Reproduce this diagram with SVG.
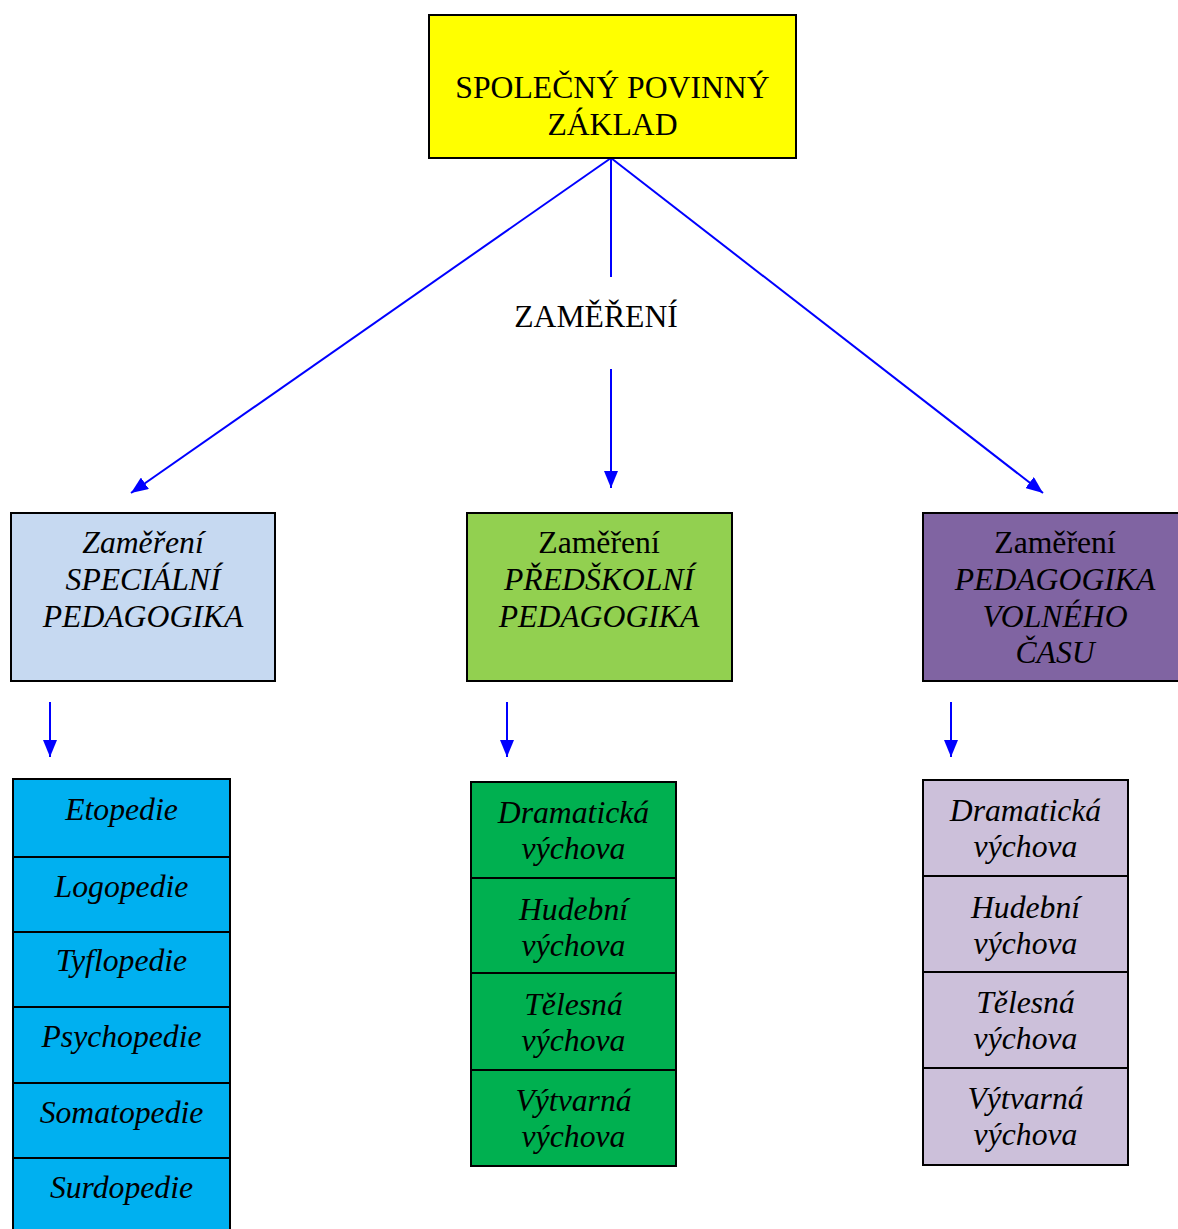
<svg xmlns="http://www.w3.org/2000/svg" width="1178" height="1229" viewBox="0 0 1178 1229">
<style>
text{font-family:"Liberation Serif","Times New Roman",serif;font-size:31.7px;fill:#000;text-anchor:middle}
.i{font-style:italic}
.box{stroke:#000;stroke-width:2}
.con{stroke:#0000FF;stroke-width:2;fill:none}
</style>
<defs>
<marker id="ah" markerUnits="userSpaceOnUse" markerWidth="18" markerHeight="14" refX="17" refY="7" orient="auto">
<path d="M0,0 L17,7 L0,14 Z" fill="#0000FF"/>
</marker>
</defs>
<rect width="1178" height="1229" fill="#fff"/>
<g id="connectors">
<line class="con" x1="611" y1="158" x2="131" y2="493" marker-end="url(#ah)"/>
<line class="con" x1="611" y1="158" x2="611" y2="277"/>
<line class="con" x1="611" y1="369" x2="611" y2="488" marker-end="url(#ah)"/>
<line class="con" x1="611" y1="158" x2="1043" y2="493" marker-end="url(#ah)"/>
<line class="con" x1="50" y1="702" x2="50" y2="757" marker-end="url(#ah)"/>
<line class="con" x1="507" y1="702" x2="507" y2="757" marker-end="url(#ah)"/>
<line class="con" x1="951" y1="702" x2="951" y2="757" marker-end="url(#ah)"/>
</g>
<g id="label-zamereni"><text x="596" y="327">ZAMĚŘENÍ</text></g>
<g id="top">
<rect class="box" x="429" y="15" width="367" height="143" fill="#FFFF00"/>
<text x="612.5" y="98">SPOLEČNÝ POVINNÝ</text>
<text x="612.5" y="135">ZÁKLAD</text>
</g>
<g id="spec">
<rect class="box" x="11" y="513" width="264" height="168" fill="#C6D9F1"/>
<text class="i" x="143" y="553">Zaměření</text>
<text class="i" x="143" y="590">SPECIÁLNÍ</text>
<text class="i" x="143" y="627">PEDAGOGIKA</text>
</g>
<g id="pred">
<rect class="box" x="467" y="513" width="265" height="168" fill="#92D050"/>
<text x="599" y="553">Zaměření</text>
<text class="i" x="599" y="590">PŘEDŠKOLNÍ</text>
<text class="i" x="599" y="627">PEDAGOGIKA</text>
</g>
<g id="volny">
<rect class="box" x="923" y="513" width="265" height="168" fill="#8064A2"/>
<text x="1055" y="553">Zaměření</text>
<text class="i" x="1055" y="590">PEDAGOGIKA</text>
<text class="i" x="1055" y="627">VOLNÉHO</text>
<text class="i" x="1055" y="663">ČASU</text>
</g>
<g id="spec-list">
<g id="etopedie"><rect class="box" x="13" y="779" width="217" height="78" fill="#00B0F0"/><text class="i" x="121.5" y="820">Etopedie</text></g>
<g id="logopedie"><rect class="box" x="13" y="857" width="217" height="75" fill="#00B0F0"/><text class="i" x="121.5" y="897">Logopedie</text></g>
<g id="tyflopedie"><rect class="box" x="13" y="932" width="217" height="75" fill="#00B0F0"/><text class="i" x="121.5" y="971">Tyflopedie</text></g>
<g id="psychopedie"><rect class="box" x="13" y="1007" width="217" height="76" fill="#00B0F0"/><text class="i" x="121.5" y="1047">Psychopedie</text></g>
<g id="somatopedie"><rect class="box" x="13" y="1083" width="217" height="75" fill="#00B0F0"/><text class="i" x="121.5" y="1123">Somatopedie</text></g>
<g id="surdopedie"><rect class="box" x="13" y="1158" width="217" height="80" fill="#00B0F0"/><text class="i" x="121.5" y="1198">Surdopedie</text></g>
</g>
<g id="pred-list">
<g id="p-dram"><rect class="box" x="471" y="782" width="205" height="96" fill="#00B050"/><text class="i" x="573.5" y="823">Dramatická</text><text class="i" x="573.5" y="859">výchova</text></g>
<g id="p-hud"><rect class="box" x="471" y="878" width="205" height="95" fill="#00B050"/><text class="i" x="573.5" y="920">Hudební</text><text class="i" x="573.5" y="956">výchova</text></g>
<g id="p-tel"><rect class="box" x="471" y="973" width="205" height="97" fill="#00B050"/><text class="i" x="573.5" y="1015">Tělesná</text><text class="i" x="573.5" y="1051">výchova</text></g>
<g id="p-vyt"><rect class="box" x="471" y="1070" width="205" height="96" fill="#00B050"/><text class="i" x="573.5" y="1111">Výtvarná</text><text class="i" x="573.5" y="1147">výchova</text></g>
</g>
<g id="volny-list">
<g id="v-dram"><rect class="box" x="923" y="780" width="205" height="96" fill="#CCC0DA"/><text class="i" x="1025.5" y="821">Dramatická</text><text class="i" x="1025.5" y="857">výchova</text></g>
<g id="v-hud"><rect class="box" x="923" y="876" width="205" height="96" fill="#CCC0DA"/><text class="i" x="1025.5" y="918">Hudební</text><text class="i" x="1025.5" y="954">výchova</text></g>
<g id="v-tel"><rect class="box" x="923" y="972" width="205" height="96" fill="#CCC0DA"/><text class="i" x="1025.5" y="1013">Tělesná</text><text class="i" x="1025.5" y="1049">výchova</text></g>
<g id="v-vyt"><rect class="box" x="923" y="1068" width="205" height="97" fill="#CCC0DA"/><text class="i" x="1025.5" y="1109">Výtvarná</text><text class="i" x="1025.5" y="1145">výchova</text></g>
</g>
</svg>
